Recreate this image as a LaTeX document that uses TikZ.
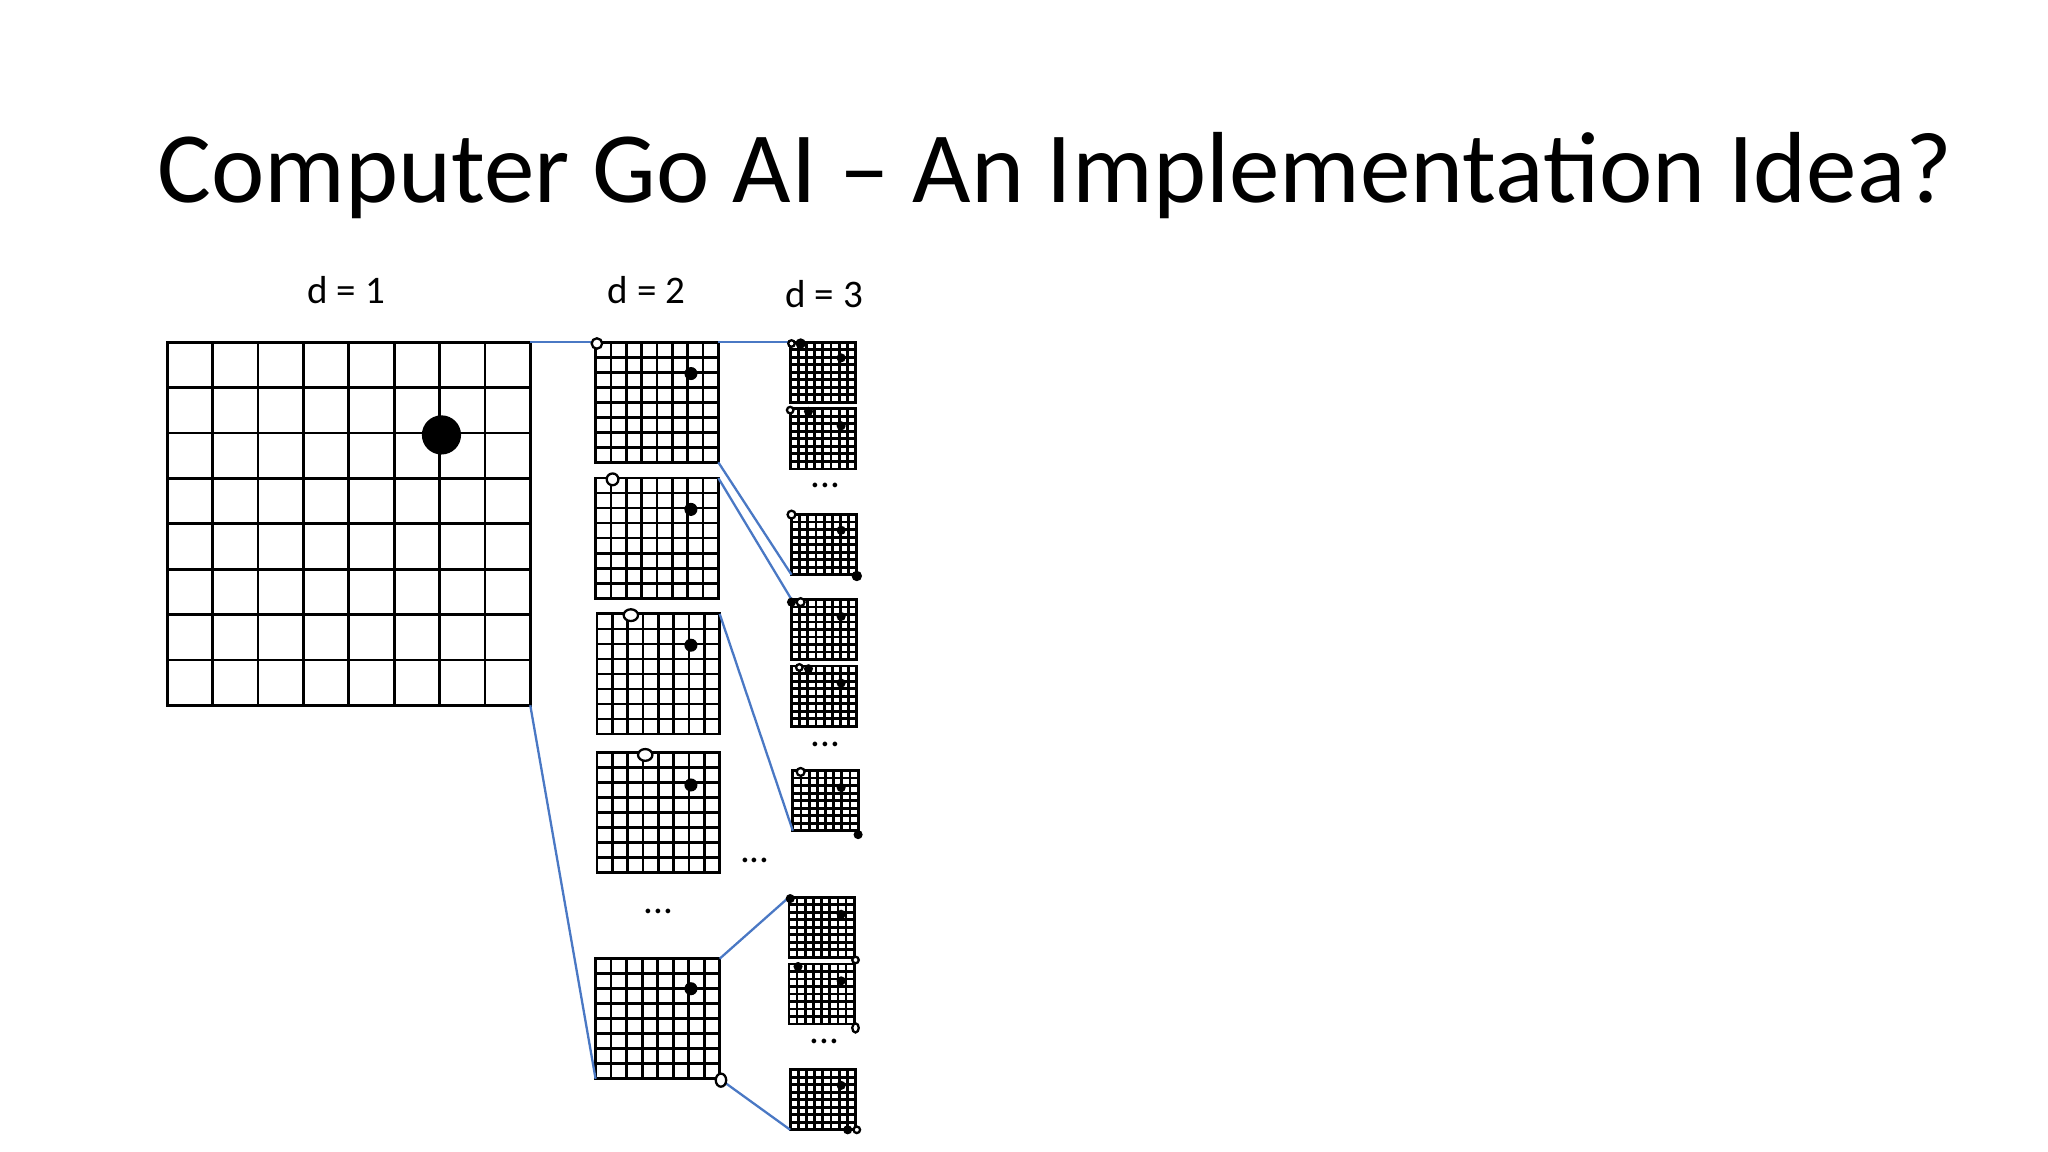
\documentclass[tikz,border=0pt]{standalone}
\usepackage{fontspec}
\setmainfont{Carlito}
\usepackage{xcolor}
\usepackage{tikz}
\usetikzlibrary{positioning}
\definecolor{linkblue}{RGB}{74,120,196}

\tikzset{
board/.style={draw,line width=0.6pt,inner sep=0pt,outer sep=0pt},
link/.style={draw=linkblue,line width=0.5pt},
bst/.style={fill=black},
wst/.style={draw=black,fill=white,line width=0.5pt},
lbl/.style={font=\fontsize{8.5}{10}\selectfont}
}
% name, left, top, width, height
\newcommand\goboard[5]{%
\node[board,anchor=north west,minimum width=#4*0.01cm,minimum height=#5*0.01cm] (#1) at (#2,#3) {};
\foreach \i in {1,...,7}{
\draw[line width=0.6pt] ({#2+\i*#4/8},#3) -- ++(0,#5);
\draw[line width=0.6pt] (#2,{#3+\i*#5/8}) -- ++(#4,0);
}}

\begin{document}
\begin{tikzpicture}[x=0.01cm,y=-0.01cm]
\useasboundingbox (0,0) rectangle (1568,882);
\node[anchor=base west,inner sep=0pt,font=\fontsize{22}{26}\selectfont] (title) at (120,155) {Computer Go AI -- An Implementation Idea?};
\node[lbl] (d1) at (265,222) {d = 1};
\node[lbl] (d2) at (495,222) {d = 2};
\node[lbl] (d3) at (631,225) {d = 3};
% boards
\goboard{b1}{128}{262}{278}{278}
\goboard{c1}{456}{262}{94}{92}
\goboard{c2}{456}{366}{94}{92}
\goboard{c3}{457}{470}{94}{92}
\goboard{c4}{457}{576}{94}{92}
\goboard{c5}{456}{734}{95}{92}
\goboard{e1}{605}{262}{50}{46}
\goboard{e2}{605}{313}{50}{46}
\goboard{e3}{606}{394}{50}{46}
\goboard{e4}{606}{459}{50}{46}
\goboard{e5}{606}{510}{50}{46}
\goboard{e6}{607}{590}{50}{46}
\goboard{e7}{604}{687}{50}{46}
\goboard{e8}{604}{738}{50}{46}
\goboard{e9}{605}{819}{50}{46}
% links
\draw[link] (b1.north east) -- (c1.north west);
\draw[link] (b1.south east) -- (c5.south west);
\draw[link] (c1.north east) -- (e1.north west);
\draw[link] (c1.south east) -- (e3.south west);
\draw[link] (c2.north east) -- (e4.north west);
\draw[link] (c3.north east) -- (e6.south west);
\draw[link] (c5.north east) -- (e7.north west);
\draw[link] (c5.south east) -- (e9.south west);
% stones
\fill[bst] (338,333) circle (15);
\foreach \y in {286,390,494,601,757} \fill[bst] (529,\y) circle (5);
\draw[wst] (457,263) circle (4);
\draw[wst] (469,367) circle (4.5);
\draw[wst] (483,471) ellipse (5.5 and 4.5);
\draw[wst] (494,578) ellipse (5.5 and 4.5);
\draw[wst] (552,827) ellipse (4 and 5);
\foreach \y in {274,326,406,472,523,603,700,751,831} \fill[bst] (644,\y) circle (3.5);
\draw[wst] (606,263) circle (2.5);
\fill[bst] (613,263) circle (4);
\draw[wst] (605,314) circle (2.5);
\fill[bst] (619,315) circle (3.5);
\draw[wst] (606,394) circle (3);
\fill[bst] (656,441) circle (4);
\fill[bst] (606,461) circle (3.5);
\draw[wst] (613,461) circle (3);
\draw[wst] (612,511) circle (2.5);
\fill[bst] (619,512) circle (3.5);
\draw[wst] (613,591) circle (3);
\fill[bst] (657,639) circle (3.5);
\fill[bst] (605,688) circle (3.5);
\draw[wst] (655,735) circle (2.5);
\fill[bst] (611,740) circle (3.5);
\draw[wst] (655,787) ellipse (2.5 and 3.5);
\fill[bst] (649,865) circle (3.5);
\draw[wst] (656,865) circle (2.5);
% dots
\node[lbl] (dd1) at (504,698) {...};
\node[lbl] (dd2) at (578,659) {...};
\node[lbl] (dd3) at (632,372) {...};
\node[lbl] (dd4) at (632,570) {...};
\node[lbl] (dd5) at (631,797) {...};
\end{tikzpicture}
\end{document}
